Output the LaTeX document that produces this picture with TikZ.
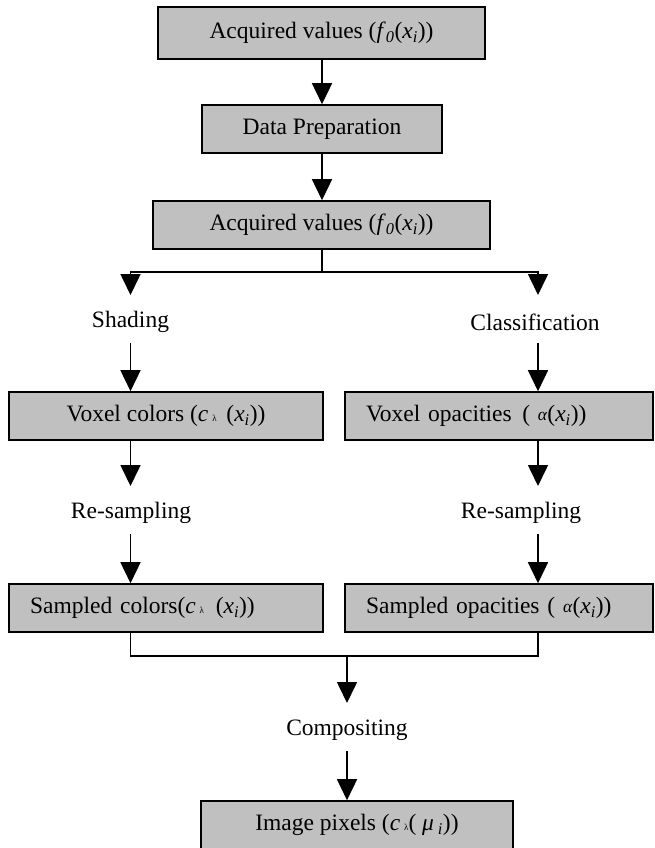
\documentclass[tikz,border=0pt]{standalone}
\usepackage{fontspec}
\setmainfont{Liberation Serif}
\usetikzlibrary{arrows.meta}
\definecolor{boxgray}{RGB}{192,192,192}
\newcommand{\xsub}{\textit{x}\textsubscript{\textit{i}}}
\newcommand{\lamsm}{{\fontsize{9}{9}\selectfont λ}}
\newcommand{\alsm}{\raisebox{0.15ex}{\fontsize{17.5}{17.5}\selectfont\textit{α}}}
\begin{document}
\begin{tikzpicture}[x=1pt,y=-1pt,
  txt/.style={font=\fontsize{23.5}{28}\selectfont},
  box/.style={txt, draw=black, line width=1.6pt, fill=boxgray, inner sep=0pt, minimum height=48pt},
  lbl/.style={txt, inner sep=0pt, minimum height=42pt},
  conn/.style={line width=1.6pt},
  arr/.style={conn, -{Triangle[width=20pt,length=21pt]}}]
\useasboundingbox (0,0) rectangle (654,848);

% boxes
\node[box, minimum width=327pt, minimum height=52pt] (b1) at (321.5,33) {Acquired values (\textit{f}\textsubscript{\textit{0}}(\xsub))};
\node[box, minimum width=240pt] (b2) at (322,129) {Data Preparation};
\node[box, minimum width=337pt] (b3) at (321.5,225) {Acquired values (\textit{f}\textsubscript{\textit{0}}(\xsub))};
\node[box, minimum width=314pt] (vc) at (166,416) {Voxel colors (\textit{c}\,\lamsm\, (\xsub))};
\node[box, minimum width=308pt, text width=266pt, align=left] (vo) at (499,416) {Voxel opacities\hspace{0.45em}( \alsm(\xsub))};
\node[box, minimum width=314pt, text width=272pt, align=left] (sc) at (166,608) {Sampled colors(\textit{c}\,\lamsm\, (\xsub))};
\node[box, minimum width=308pt, text width=266pt, align=left] (so) at (499,608) {Sampled opacities ( \alsm(\xsub))};
\node[box, minimum width=312pt] (ip) at (357,825) {Image pixels (\textit{c}\,\lamsm( \textit{μ}\,\textsubscript{\textit{i}}))};

% labels
\node[lbl] (sh) at (130.5,322) {Shading};
\node[lbl] (cl) at (535,322) {Classification};
\node[lbl] (rsL) at (131,513) {Re-sampling};
\node[lbl] (rsR) at (521,513) {Re-sampling};
\node[lbl] (co) at (347,730) {Compositing};

% helper coordinates
\coordinate (j1) at (322,272);
\coordinate (tL) at (130.5,295);
\coordinate (tR) at (538,295);
\coordinate (tL2) at (130.5,486);
\coordinate (tR2) at (538,486);
\coordinate (j2) at (347,656);
\coordinate (tM) at (347,703);

% connectors
\draw[arr] (b1.south -| j1) -- (b2.north -| j1);
\draw[arr] (b2.south -| j1) -- (b3.north -| j1);
\draw[conn] (b3.south -| j1) -- (j1);
\draw[arr] (j1) -| (tL);
\draw[arr] (j1) -| (tR);
\draw[arr] (sh.south -| tL) -- (vc.north -| tL);
\draw[arr] (cl.south -| tR) -- (vo.north -| tR);
\draw[arr] (vc.south -| tL) -- (tL2);
\draw[arr] (vo.south -| tR) -- (tR2);
\draw[arr] (rsL.south -| tL) -- (sc.north -| tL);
\draw[arr] (rsR.south -| tR) -- (so.north -| tR);
\draw[conn] (sc.south -| tL) |- (j2) -| (so.south -| tR);
\draw[arr] (j2) -- (tM);
\draw[arr] (co.south -| tM) -- (ip.north -| tM);
\end{tikzpicture}
\end{document}
